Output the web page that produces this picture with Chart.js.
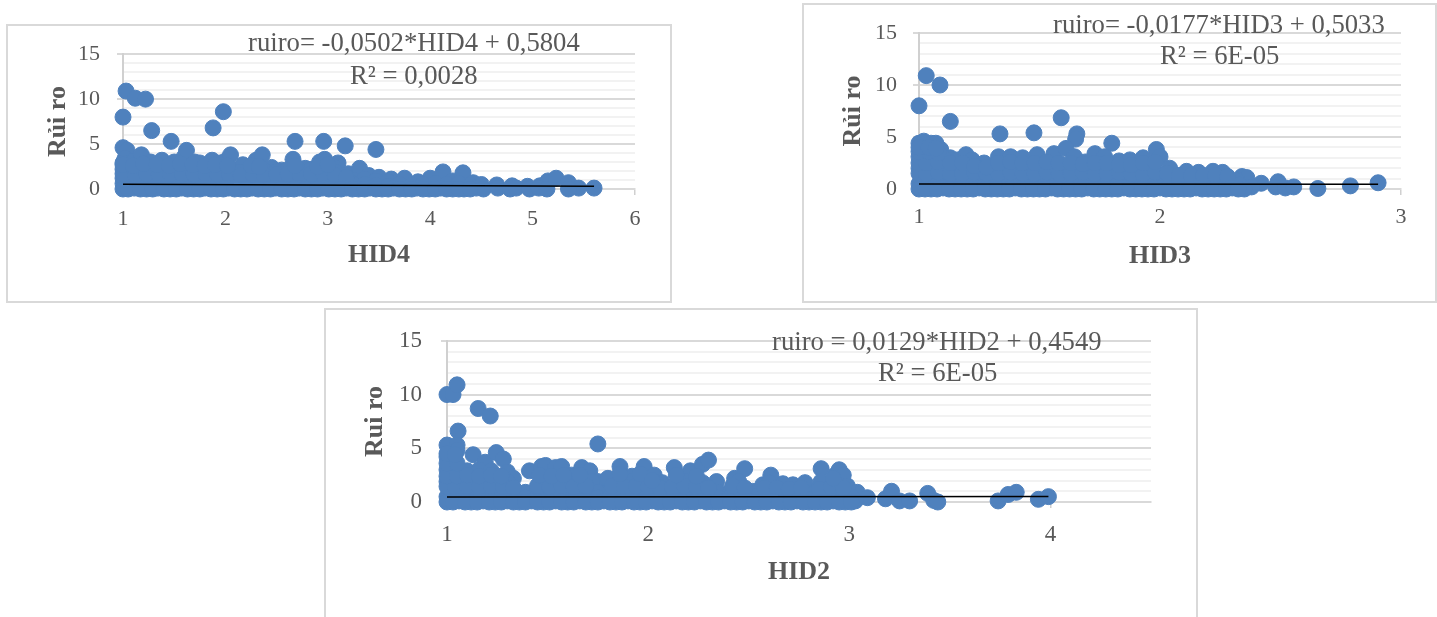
<!DOCTYPE html>
<html>
<head>
<meta charset="utf-8">
<title>Rui ro</title>
<script src="https://cdn.jsdelivr.net/npm/chart.js@4"></script>
<style>
html, body { margin: 0; padding: 0; background: #fff; width: 1437px; height: 617px; overflow: hidden; }
.box { position: absolute; box-sizing: border-box; border: 2px solid #d9d9d9; background: #fff; }
canvas { position: absolute; left: -2px; top: -2px; }
.eq { position: absolute; font-family: "Liberation Serif", serif; color: #595959; white-space: nowrap; line-height: 1; font-size: 26.7px; }
</style>
</head>
<body>
<div class="box" style="left:6px;top:24px;width:666px;height:279px"><canvas id="c1" width="666" height="279"></canvas></div>
<div class="box" style="left:802px;top:3px;width:635px;height:300px"><canvas id="c2" width="635" height="300"></canvas></div>
<div class="box" style="left:324px;top:308px;width:874px;height:320px"><canvas id="c3" width="874" height="320"></canvas></div>

<div class="eq" style="left:248px;top:29px">ruiro= -0,0502*HID4 + 0,5804</div>
<div class="eq" style="left:350px;top:62px">R² = 0,0028</div>
<div class="eq" style="left:1053px;top:11px">ruiro= -0,0177*HID3 + 0,5033</div>
<div class="eq" style="left:1160px;top:42px">R² = 6E-05</div>
<div class="eq" style="left:772px;top:328px">ruiro = 0,0129*HID2 + 0,4549</div>
<div class="eq" style="left:878px;top:359px">R² = 6E-05</div>

<script>
const riskTicks = [0, 5, 10, 15];

// HID4 panel
const hid4Outliers = [[1.03,10.9],[1.12,10.1],[1.22,10],[1,8],[1.28,6.5],[1.47,5.3],[1.88,6.8],[1.98,8.6],[2.68,5.3],[2.96,5.3],[3.17,4.8],[3.47,4.4]];
const hid4Upper = [[1,4.6],[1.04,4.3],[1.02,3.4],[1,2.9],[1.1,3.1],[1.18,3.8],[1.27,3],[1.38,3.2],[1.5,3],[1.6,3.6],[1.62,4.3],[1.7,3],[1.75,2.9],[1.87,3.2],[1.95,2.9],[2,3.1],[2.05,3.8],[2.17,2.7],[2.3,3.2],[2.36,3.8],[2.45,2.4],[2.55,2.1],[2.66,3.3],[2.78,2.3],[2.92,3],[2.97,3.3],[3.1,2.9],[3.05,2.5],[3.2,1.7],[3.31,2.3],[3.4,1.5],[3.5,1.3],[3.62,1.1],[3.75,1.2],[3.88,0.8],[4,1.2],[4.125,1.9],[4.22,0.9],[4.32,1.8],[4.42,0.7],[4.5,0.5],[4.65,0.45],[4.8,0.35],[4.95,0.3],[5.07,0.35],[5.15,0.9],[5.23,1.2],[5.35,0.7],[5.45,0.1],[5.6,0.1]];
const hid4Middle = [[1,2.2],[1.12,2.3],[1.23,2.2],[1.35,2.3],[1.46,2.2],[1.58,2.1],[1.69,2.3],[1.81,2.2],[1.92,2.1],[2.04,2.3],[2.15,1.9],[2.27,2.2],[2.38,2],[2.5,1.9],[2.61,2.1],[2.73,2],[2.84,2.2],[2.96,2.1],[3.07,1.9],[1.06,1.1],[1.17,1.1],[1.29,1.2],[1.4,1],[1.52,1.1],[1.63,1.2],[1.75,1],[1.86,1.1],[1.98,1.2],[2.09,1],[2.21,1.1],[2.32,1],[2.44,1.1],[2.55,1.2],[2.67,1],[2.78,1.1],[2.9,1.2],[3.01,1],[3.13,1.1],[3.24,1],[3.36,1.1],[3.47,0.9],[3.59,0.8],[1,1.2]];
const hid4Fill = [[1,0.6],[1.05,0.5],[1.17,0.6],[1.29,0.5],[1.4,0.6],[1.52,0.5],[1.63,0.6],[1.75,0.5],[1.86,0.6],[1.98,0.5],[2.09,0.6],[2.21,0.5],[2.32,0.6],[2.44,0.5],[2.55,0.6],[2.67,0.5],[2.78,0.6],[2.9,0.5],[3.01,0.6],[3.13,0.5],[3.24,0.6],[3.36,0.5],[3.47,0.4],[3.59,0.3],[3.7,0.5],[3.82,0.4],[3.93,0.5],[4.05,0.6],[4.16,0.5],[4.28,0.6],[4.39,0.4],[1,1.7],[1.12,1.6],[1.23,1.7],[1.35,1.6],[1.46,1.7],[1.58,1.6],[1.69,1.7],[1.81,1.6],[1.92,1.7],[2.04,1.6],[2.15,1.5],[2.27,1.6],[2.38,1.5],[2.5,1.6],[2.61,1.7],[2.73,1.5],[2.84,1.7],[2.96,1.6],[3.07,1.5],[3.18,1.3],[1,2.7],[1.1,2.6],[1.2,2.8],[1.33,2.7],[1.45,2.6],[1.56,2.8],[1.68,2.7],[1.8,2.6],[1.9,2.7],[2.02,2.6],[2.25,2.6],[2.33,2.5],[2.68,2.6],[2.9,2.5],[3,2.7]];
const hid4Base = [[1,0],[1.11,0.1],[1.23,0],[1.34,0.1],[1.46,0],[1.57,0.1],[1.69,0],[1.8,0.1],[1.92,0],[2.03,0.1],[2.15,0],[2.26,0.1],[2.38,0],[2.49,0.1],[2.61,0],[2.72,0.1],[2.84,0],[2.95,0.1],[3.07,0],[3.18,0.1],[3.3,0],[3.41,0.1],[3.53,0],[3.64,0.1],[3.76,0],[3.87,0.1],[3.99,0],[4.1,0.1],[4.22,0],[4.33,0],[4.45,0.1],[4.52,0],[4.66,0.1],[4.78,0],[4.84,0.1],[4.97,0],[5.06,0.1],[5.14,0],[5.35,0]];
const hid4Floor = [[1.05,0],[1.17,0],[1.29,0],[1.4,0],[1.52,0],[1.63,0],[1.75,0],[1.86,0],[1.98,0],[2.09,0],[2.21,0],[2.32,0],[2.44,0],[2.55,0],[2.67,0],[2.78,0],[2.9,0],[3.01,0],[3.13,0],[3.24,0],[3.36,0],[3.47,0],[3.59,0],[3.7,0],[3.82,0],[3.93,0],[4.05,0],[4.16,0],[4.28,0],[4.39,0]];
const hid4Trend = [[1,0.53],[5.6,0.3]];

// HID3 panel
const hid3Outliers = [[1.03,10.9],[1.087,10],[1,8],[1.13,6.5],[1.336,5.3],[1.477,5.4],[1.59,6.85],[1.655,5.3],[1.65,4.8],[1.8,4.4]];
const hid3Upper = [[1,4.4],[1.02,4.6],[1.05,4.4],[1.07,4.4],[1.09,3.8],[1.13,3],[1.16,2.8],[1.195,3.3],[1.22,2.8],[1.27,2.5],[1.33,3.1],[1.38,3.1],[1.43,3],[1.49,3.3],[1.56,3.4],[1.61,3.9],[1.645,3.1],[1.69,2.6],[1.73,3.4],[1.77,3.1],[1.83,2.7],[1.875,2.8],[1.93,3],[1.985,3.8],[2,3.1],[2.04,2],[2.11,1.7],[2.16,1.6],[2.22,1.7],[2.26,1.6],[2.34,1.2],[2.36,1.1],[2.31,0.7],[2.42,0.55],[2.38,0.2],[2.49,0.7],[2.48,0.2],[2.52,0.1],[2.555,0.2],[2.655,0.05],[2.79,0.3],[2.905,0.6]];
const hid3Middle = [[1,3.1],[1.05,3.1],[1.1,3],[1,2],[1.05,2.1],[1.1,2],[1.15,2.1],[1.2,2],[1.25,2],[1.3,2.1],[1.35,2],[1.4,2],[1.45,2.1],[1.5,2],[1.55,2.1],[1.6,2],[1.65,2.1],[1.7,2],[1.75,2.1],[1.8,2],[1.85,2],[1.9,2.1],[1.95,2],[1.02,1],[1.07,1],[1.12,1.1],[1.17,1],[1.22,1],[1.27,1.1],[1.32,1],[1.37,1],[1.42,1.1],[1.47,1],[1.52,1],[1.57,1.1],[1.62,1],[1.67,1],[1.72,1.1],[1.77,1],[1.82,1],[1.87,1.1],[1.92,1],[1.97,1],[2.02,1.1],[2.07,1],[2.12,1],[2.17,0.9],[2.22,1],[2.27,0.9],[2.32,0.8]];
const hid3Fill = [[1,0.5],[1.03,0.5],[1.08,0.6],[1.13,0.5],[1.18,0.5],[1.23,0.6],[1.28,0.5],[1.33,0.5],[1.38,0.6],[1.43,0.5],[1.48,0.5],[1.53,0.6],[1.58,0.5],[1.63,0.5],[1.68,0.6],[1.73,0.5],[1.78,0.5],[1.83,0.6],[1.88,0.5],[1.93,0.5],[1.98,0.6],[2.03,0.5],[2.08,0.5],[2.13,0.6],[2.18,0.5],[2.23,0.5],[2.28,0.6],[2.33,0.4],[1,1.5],[1.03,1.5],[1.08,1.6],[1.13,1.5],[1.18,1.5],[1.23,1.6],[1.28,1.5],[1.33,1.5],[1.38,1.6],[1.43,1.5],[1.48,1.5],[1.53,1.6],[1.58,1.5],[1.63,1.5],[1.68,1.6],[1.73,1.5],[1.78,1.5],[1.83,1.6],[1.88,1.5],[1.93,1.5],[1.98,1.6],[2.03,1.5],[2.08,1.3],[2.13,1.3],[2.18,1.3],[2.23,1.3],[2.28,1.2],[1,2.5],[1.03,2.5],[1.08,2.6],[1.13,2.5],[1.18,2.5],[1.23,2.2],[1.28,2.1],[1.33,2.5],[1.38,2.6],[1.43,2.5],[1.48,2.5],[1.53,2.6],[1.58,2.5],[1.63,2.5],[1.68,2.4],[1.73,2.5],[1.78,2.5],[1.83,2.3],[1.88,2.3],[1.93,2.5],[1.98,2.6],[1,3.6],[1.04,3.6],[1.08,3.5],[1,4],[1.04,4],[1.07,3.9]];
const hid3Base = [[1,0],[1.05,0],[1.1,0.1],[1.15,0],[1.2,0],[1.25,0.1],[1.3,0],[1.35,0],[1.4,0.1],[1.45,0],[1.5,0],[1.55,0.1],[1.6,0],[1.65,0],[1.7,0.1],[1.75,0],[1.8,0],[1.85,0.1],[1.9,0],[1.95,0],[2,0.1],[2.05,0],[2.1,0],[2.15,0.1],[2.2,0],[2.25,0],[2.3,0.1],[2.35,0]];
const hid3Floor = [[1.025,0],[1.075,0],[1.125,0],[1.175,0],[1.225,0],[1.275,0],[1.325,0],[1.375,0],[1.425,0],[1.475,0],[1.525,0],[1.575,0],[1.625,0],[1.675,0],[1.725,0],[1.775,0],[1.825,0],[1.875,0],[1.925,0],[1.975,0],[2.025,0],[2.075,0],[2.125,0],[2.175,0],[2.225,0],[2.275,0],[2.325,0]];
const hid3Trend = [[1,0.486],[2.905,0.452]];

// HID2 panel
const hid2Outliers = [[1,10],[1.03,10],[1.05,10.9],[1.155,8.7],[1.215,8],[1.055,6.6],[1.75,5.4]];
const hid2Upper = [[1,5.3],[1.05,5.3],[1.05,4.8],[1,4.2],[1.13,4.4],[1.19,3.7],[1.245,4.6],[1.28,4],[1.3,2.8],[1.33,2.2],[1.41,2.9],[1.47,3.3],[1.49,3.4],[1.54,3.2],[1.57,3.3],[1.62,2.5],[1.67,3.2],[1.71,2.9],[1.75,1.9],[1.8,2.2],[1.86,3.3],[1.92,2.4],[1.98,3.3],[2.03,2.5],[2.07,1.8],[2.13,3.2],[2.17,2.2],[2.21,2.9],[2.27,3.5],[2.3,3.9],[2.34,1.9],[2.43,2.2],[2.48,3.1],[2.46,1.3],[2.52,1],[2.57,1.6],[2.61,2.5],[2.67,1.7],[2.72,1.6],[2.78,1.8],[2.855,1.5],[2.86,3.1],[2.93,2.5],[2.95,3],[2.97,2.5],[2.99,1.5],[3.04,0.9],[3.09,0.4],[3.18,0.3],[3.21,1],[3.25,0.1],[3.3,0.1],[3.39,0.8],[3.42,0.15],[3.44,0],[3.74,0.1],[3.79,0.7],[3.83,0.9],[3.94,0.25],[3.99,0.5]];
const hid2Middle = [[1,3],[1.05,3.1],[1.1,2.9],[1.16,3],[1.22,2.9],[1,1.9],[1.06,1.9],[1.12,2],[1.18,1.9],[1.24,2],[1.3,1.9],[1.48,2],[1.54,1.9],[1.6,2],[1.66,2.1],[1.72,1.9],[1.86,2],[1.92,1.9],[1.98,2],[2.04,1.8],[2.15,1.9],[2.21,2],[2.27,1.8],[2.45,1.9],[2.6,1.8],[2.86,1.9],[2.92,1.8],[1.03,0.95],[1.09,1],[1.15,0.9],[1.21,1],[1.27,0.9],[1.33,1],[1.39,0.9],[1.45,1],[1.51,0.9],[1.57,1],[1.63,0.9],[1.69,1],[1.75,0.9],[1.81,1],[1.87,0.9],[1.93,1],[1.99,0.9],[2.05,1],[2.11,0.9],[2.17,1],[2.23,0.9],[2.29,1],[2.35,0.9],[2.41,1],[2.47,0.9],[2.53,0.8],[2.59,0.9],[2.65,1],[2.71,0.9],[2.77,1],[2.83,0.9],[2.89,1],[2.95,0.9],[3,0.8]];
const hid2Fill = [[1,0.5],[1.03,0.5],[1.09,0.5],[1.15,0.4],[1.21,0.5],[1.27,0.4],[1.33,0.5],[1.39,0.4],[1.45,0.5],[1.51,0.4],[1.57,0.5],[1.63,0.4],[1.69,0.5],[1.75,0.4],[1.81,0.5],[1.87,0.4],[1.93,0.5],[1.99,0.4],[2.05,0.5],[2.11,0.4],[2.17,0.5],[2.23,0.4],[2.29,0.5],[2.35,0.4],[2.41,0.5],[2.47,0.4],[2.53,0.5],[2.59,0.4],[2.65,0.5],[2.71,0.4],[2.77,0.5],[2.83,0.4],[2.89,0.5],[2.95,0.4],[3.01,0.5],[1,1.45],[1.04,1.4],[1.1,1.5],[1.16,1.4],[1.22,1.5],[1.28,1.4],[1.33,1.3],[1.45,1.5],[1.51,1.4],[1.57,1.5],[1.63,1.4],[1.69,1.5],[1.82,1.5],[1.88,1.4],[1.94,1.5],[2,1.4],[2.06,1.3],[2.12,1.4],[2.18,1.5],[2.24,1.4],[2.3,1.3],[2.42,1.5],[2.48,1.3],[2.58,1.3],[2.64,1.3],[2.7,1.2],[2.76,1.3],[2.85,1.2],[2.91,1.4],[2.97,1.3],[1,2.4],[1.05,2.4],[1.1,2.5],[1.16,2.4],[1.22,2.5],[1.27,2.4],[1.46,2.5],[1.52,2.4],[1.58,2.5],[1.66,2.5],[1.86,2.6],[1.96,2.6],[2.02,2],[2.14,2.5],[2.24,2.4],[2.92,2.2],[1,3.6],[1.05,3.6],[1,4.5],[1.04,4.4]];
const hid2Base = [[1,0],[1.06,0.1],[1.12,0],[1.18,0.1],[1.24,0],[1.3,0.1],[1.36,0],[1.42,0.1],[1.48,0],[1.54,0.1],[1.6,0],[1.66,0.1],[1.72,0],[1.78,0.1],[1.84,0],[1.9,0.1],[1.96,0],[2.02,0.1],[2.08,0],[2.14,0.1],[2.2,0],[2.26,0.1],[2.32,0],[2.38,0.1],[2.44,0],[2.5,0.1],[2.56,0],[2.62,0.1],[2.68,0],[2.74,0.1],[2.8,0],[2.86,0],[2.92,0.1],[2.98,0],[3.03,0.1]];
const hid2Floor = [[1.03,0],[1.09,0],[1.15,0],[1.21,0],[1.27,0],[1.33,0],[1.39,0],[1.45,0],[1.51,0],[1.57,0],[1.63,0],[1.69,0],[1.75,0],[1.81,0],[1.87,0],[1.93,0],[1.99,0],[2.05,0],[2.11,0],[2.17,0],[2.23,0],[2.29,0],[2.35,0],[2.41,0],[2.47,0],[2.53,0],[2.59,0],[2.65,0],[2.71,0],[2.77,0],[2.83,0],[2.89,0],[2.95,0],[3.01,0]];
const hid2Trend = [[1,0.468],[3.99,0.506]];

function toXY(list) {
    return list.map(p => ({ x: p[0], y: p[1] }));
}

function makeChart(id, xTitle, yTitle, xMax, points, trend, fit) {
    const ctx = document.getElementById(id).getContext('2d');
    return new Chart(ctx, {
        type: 'scatter',
        data: {
            datasets: [{
                data: toXY(trend),
                showLine: true,
                borderColor: '#000',
                borderWidth: 1.6,
                pointRadius: 0,
                clip: false
            }, {
                data: toXY(points),
                backgroundColor: '#4f81bd',
                borderColor: '#4f81bd',
                pointBorderWidth: 1,
                pointRadius: 8,
                clip: false
            }]
        },
        options: {
            responsive: false,
            animation: false,
            layout: { padding: { left: 0, top: fit.top, right: fit.right, bottom: 0 } },
            plugins: { legend: { display: false }, tooltip: { enabled: false } },
            scales: {
                x: {
                    type: 'linear',
                    min: 1,
                    max: xMax,
                    // axis lines stay under the points
                    border: { color: '#d9d9d9', width: 2, z: -1 },
                    grid: { drawOnChartArea: false, tickLength: 6, tickColor: '#d0d0d0', lineWidth: 1.5 },
                    ticks: {
                        stepSize: 1,
                        includeBounds: false,
                        maxRotation: 0,
                        padding: fit.xTickGap,
                        color: '#595959',
                        font: { family: 'Liberation Serif', size: fit.tickSize }
                    },
                    title: {
                        display: true,
                        text: xTitle,
                        color: '#595959',
                        padding: { top: 0, bottom: fit.xTitleGap },
                        font: { family: 'Liberation Serif', size: fit.titleSize, weight: 'bold' }
                    },
                    afterFit: scale => { scale.height = fit.bottom; }
                },
                y: {
                    min: 0,
                    max: 15,
                    border: { color: '#d0d0d0', width: 2, z: -1 },
                    grid: {
                        tickLength: 6,
                        lineWidth: 2,
                        color: c => (c.tick.value % 5 === 0 ? '#d9d9d9' : '#f2f2f2'),
                        tickColor: c => (c.tick.value % 5 === 0 ? '#d9d9d9' : 'rgba(0,0,0,0)')
                    },
                    ticks: {
                        stepSize: 1,
                        autoSkip: false,
                        padding: fit.yTickGap,
                        color: '#595959',
                        font: { family: 'Liberation Serif', size: fit.tickSize },
                        callback: v => (riskTicks.includes(v) ? v : '')
                    },
                    title: {
                        display: true,
                        text: yTitle,
                        color: '#595959',
                        padding: { top: fit.yTitleGap, bottom: 0 },
                        font: { family: 'Liberation Serif', size: fit.titleSize, weight: 'bold' }
                    },
                    afterFit: scale => { scale.width = fit.left; }
                }
            }
        }
    });
}

makeChart('c1', 'HID4', 'Rủi ro', 6, hid4Outliers.concat(hid4Upper, hid4Middle, hid4Fill, hid4Base, hid4Floor), hid4Trend,
    { left: 117, top: 29, right: 37, bottom: 114, tickSize: 22, titleSize: 26, xTitleGap: 32, yTitleGap: 37, xTickGap: 11, yTickGap: 17 });
makeChart('c2', 'HID3', 'Rủi ro', 3, hid3Outliers.concat(hid3Upper, hid3Middle, hid3Fill, hid3Base, hid3Floor), hid3Trend,
    { left: 117, top: 30, right: 36, bottom: 114, tickSize: 22, titleSize: 26, xTitleGap: 31, yTitleGap: 36, xTickGap: 9, yTickGap: 16 });
makeChart('c3', 'HID2', 'Rui ro', 4.5, hid2Outliers.concat(hid2Upper, hid2Middle, hid2Fill, hid2Base, hid2Floor), hid2Trend,
    { left: 123, top: 30, right: 47, bottom: 126, tickSize: 23, titleSize: 26, xTitleGap: 40, yTitleGap: 36, xTickGap: 13, yTickGap: 19 });
</script>
</body>
</html>
